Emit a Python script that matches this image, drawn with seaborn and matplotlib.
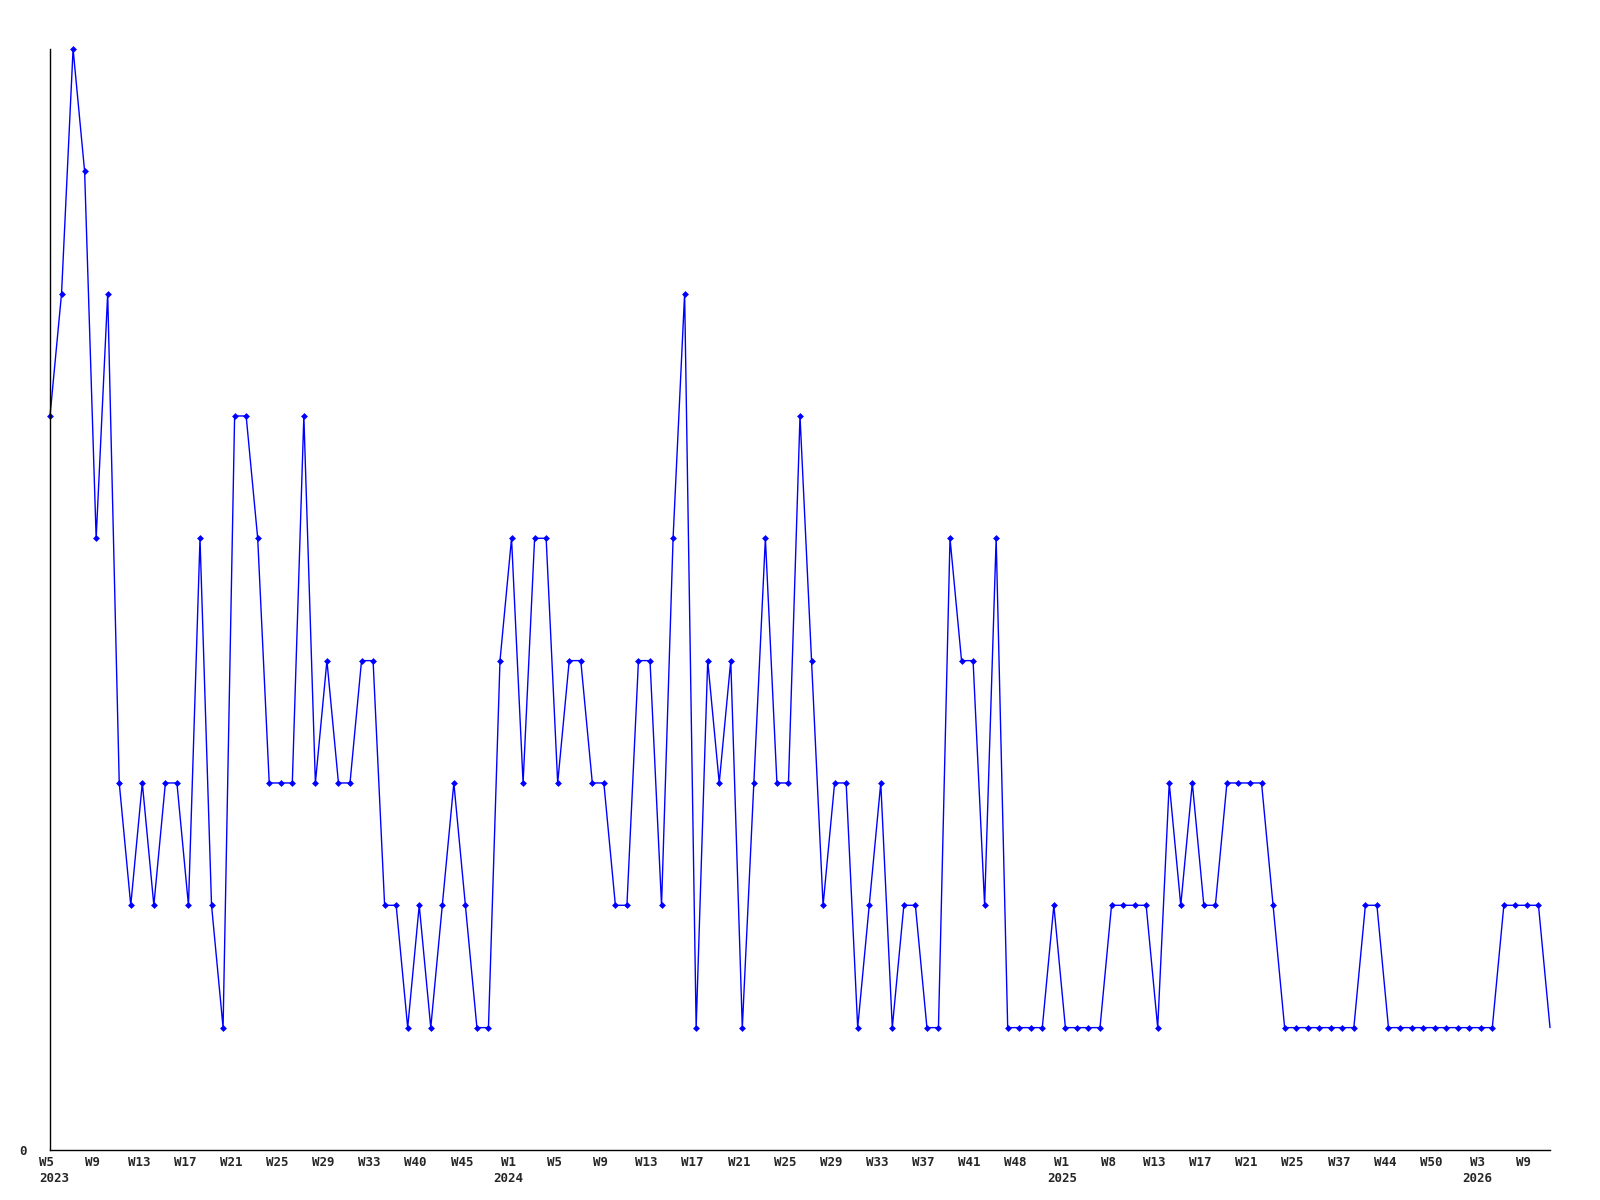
import matplotlib
matplotlib.use("Agg")
import matplotlib.pyplot as plt
import matplotlib.transforms as mtransforms
import pandas as pd
import seaborn as sns

# weekly counts (one value per plotted week)
values = [6, 7, 9, 8, 5, 7, 3, 2, 3, 2,
          3, 3, 2, 5, 2, 1, 6, 6, 5, 3,
          3, 3, 6, 3, 4, 3, 3, 4, 4, 2,
          2, 1, 2, 1, 2, 3, 2, 1, 1, 4,
          5, 3, 5, 5, 3, 4, 4, 3, 3, 2,
          2, 4, 4, 2, 5, 7, 1, 4, 3, 4,
          1, 3, 5, 3, 3, 6, 4, 2, 3, 3,
          1, 2, 3, 1, 2, 2, 1, 1, 5, 4,
          4, 2, 5, 1, 1, 1, 1, 2, 1, 1,
          1, 1, 2, 2, 2, 2, 1, 3, 2, 3,
          2, 2, 3, 3, 3, 3, 2, 1, 1, 1,
          1, 1, 1, 1, 2, 2, 1, 1, 1, 1,
          1, 1, 1, 1, 1, 1, 2, 2, 2, 2,
          1]

# labelled positions (every 4th point) and their labels
tick_pos = list(range(0, 129, 4))
tick_labels = ["W5\n2023", "W9", "W13", "W17", "W21", "W25", "W29", "W33",
               "W40", "W45", "W1\n2024", "W5", "W9", "W13", "W17", "W21",
               "W25", "W29", "W33", "W37", "W41", "W48", "W1\n2025", "W8",
               "W13", "W17", "W21", "W25", "W37", "W44", "W50", "W3\n2026",
               "W9"]

df = pd.DataFrame({"idx": range(len(values)), "value": values})

sns.set_style("white")
plt.rcParams['font.family'] = ['DejaVu Sans Mono', 'DejaVu Sans']

fig = plt.figure(figsize=(16, 12), dpi=100)
ax = fig.add_axes([0.03125, 0.0417, 0.9375, 0.9175])

# last (current) week is drawn without a marker
sns.lineplot(data=df, x="idx", y="value", ax=ax, color="#0000ff",
             linewidth=1, marker="D", markersize=3.5, markeredgewidth=0,
             markevery=list(range(len(values) - 1)), clip_on=False)

ax.set_xlim(0, len(values) - 1)
ax.set_ylim(0, 9)
ax.set_xticks(tick_pos)
ax.set_xticklabels(tick_labels, fontsize=9, fontweight="bold", linespacing=1.3)
ax.set_yticks([0])
ax.set_yticklabels(["0"], fontsize=9, fontweight="bold")
ax.tick_params(axis="x", length=0, pad=4)
ax.tick_params(axis="y", length=0, pad=17)
ax.set_xlabel("")
ax.set_ylabel("")

shift = mtransforms.ScaledTranslation(-0.035, 0, fig.dpi_scale_trans)
first_shift = mtransforms.ScaledTranslation(-0.11, 0, fig.dpi_scale_trans)
for i, lbl in enumerate(ax.get_xticklabels()):
    if i == 0:
        # first label sits flush left with its year below
        lbl.set_horizontalalignment("left")
        lbl.set_multialignment("left")
        lbl.set_transform(lbl.get_transform() + first_shift)
    else:
        lbl.set_transform(lbl.get_transform() + shift)

for side in ["top", "right"]:
    ax.spines[side].set_visible(False)
for side in ["left", "bottom"]:
    ax.spines[side].set_color("black")
    ax.spines[side].set_linewidth(1)

fig.savefig("out.png", dpi=100)
